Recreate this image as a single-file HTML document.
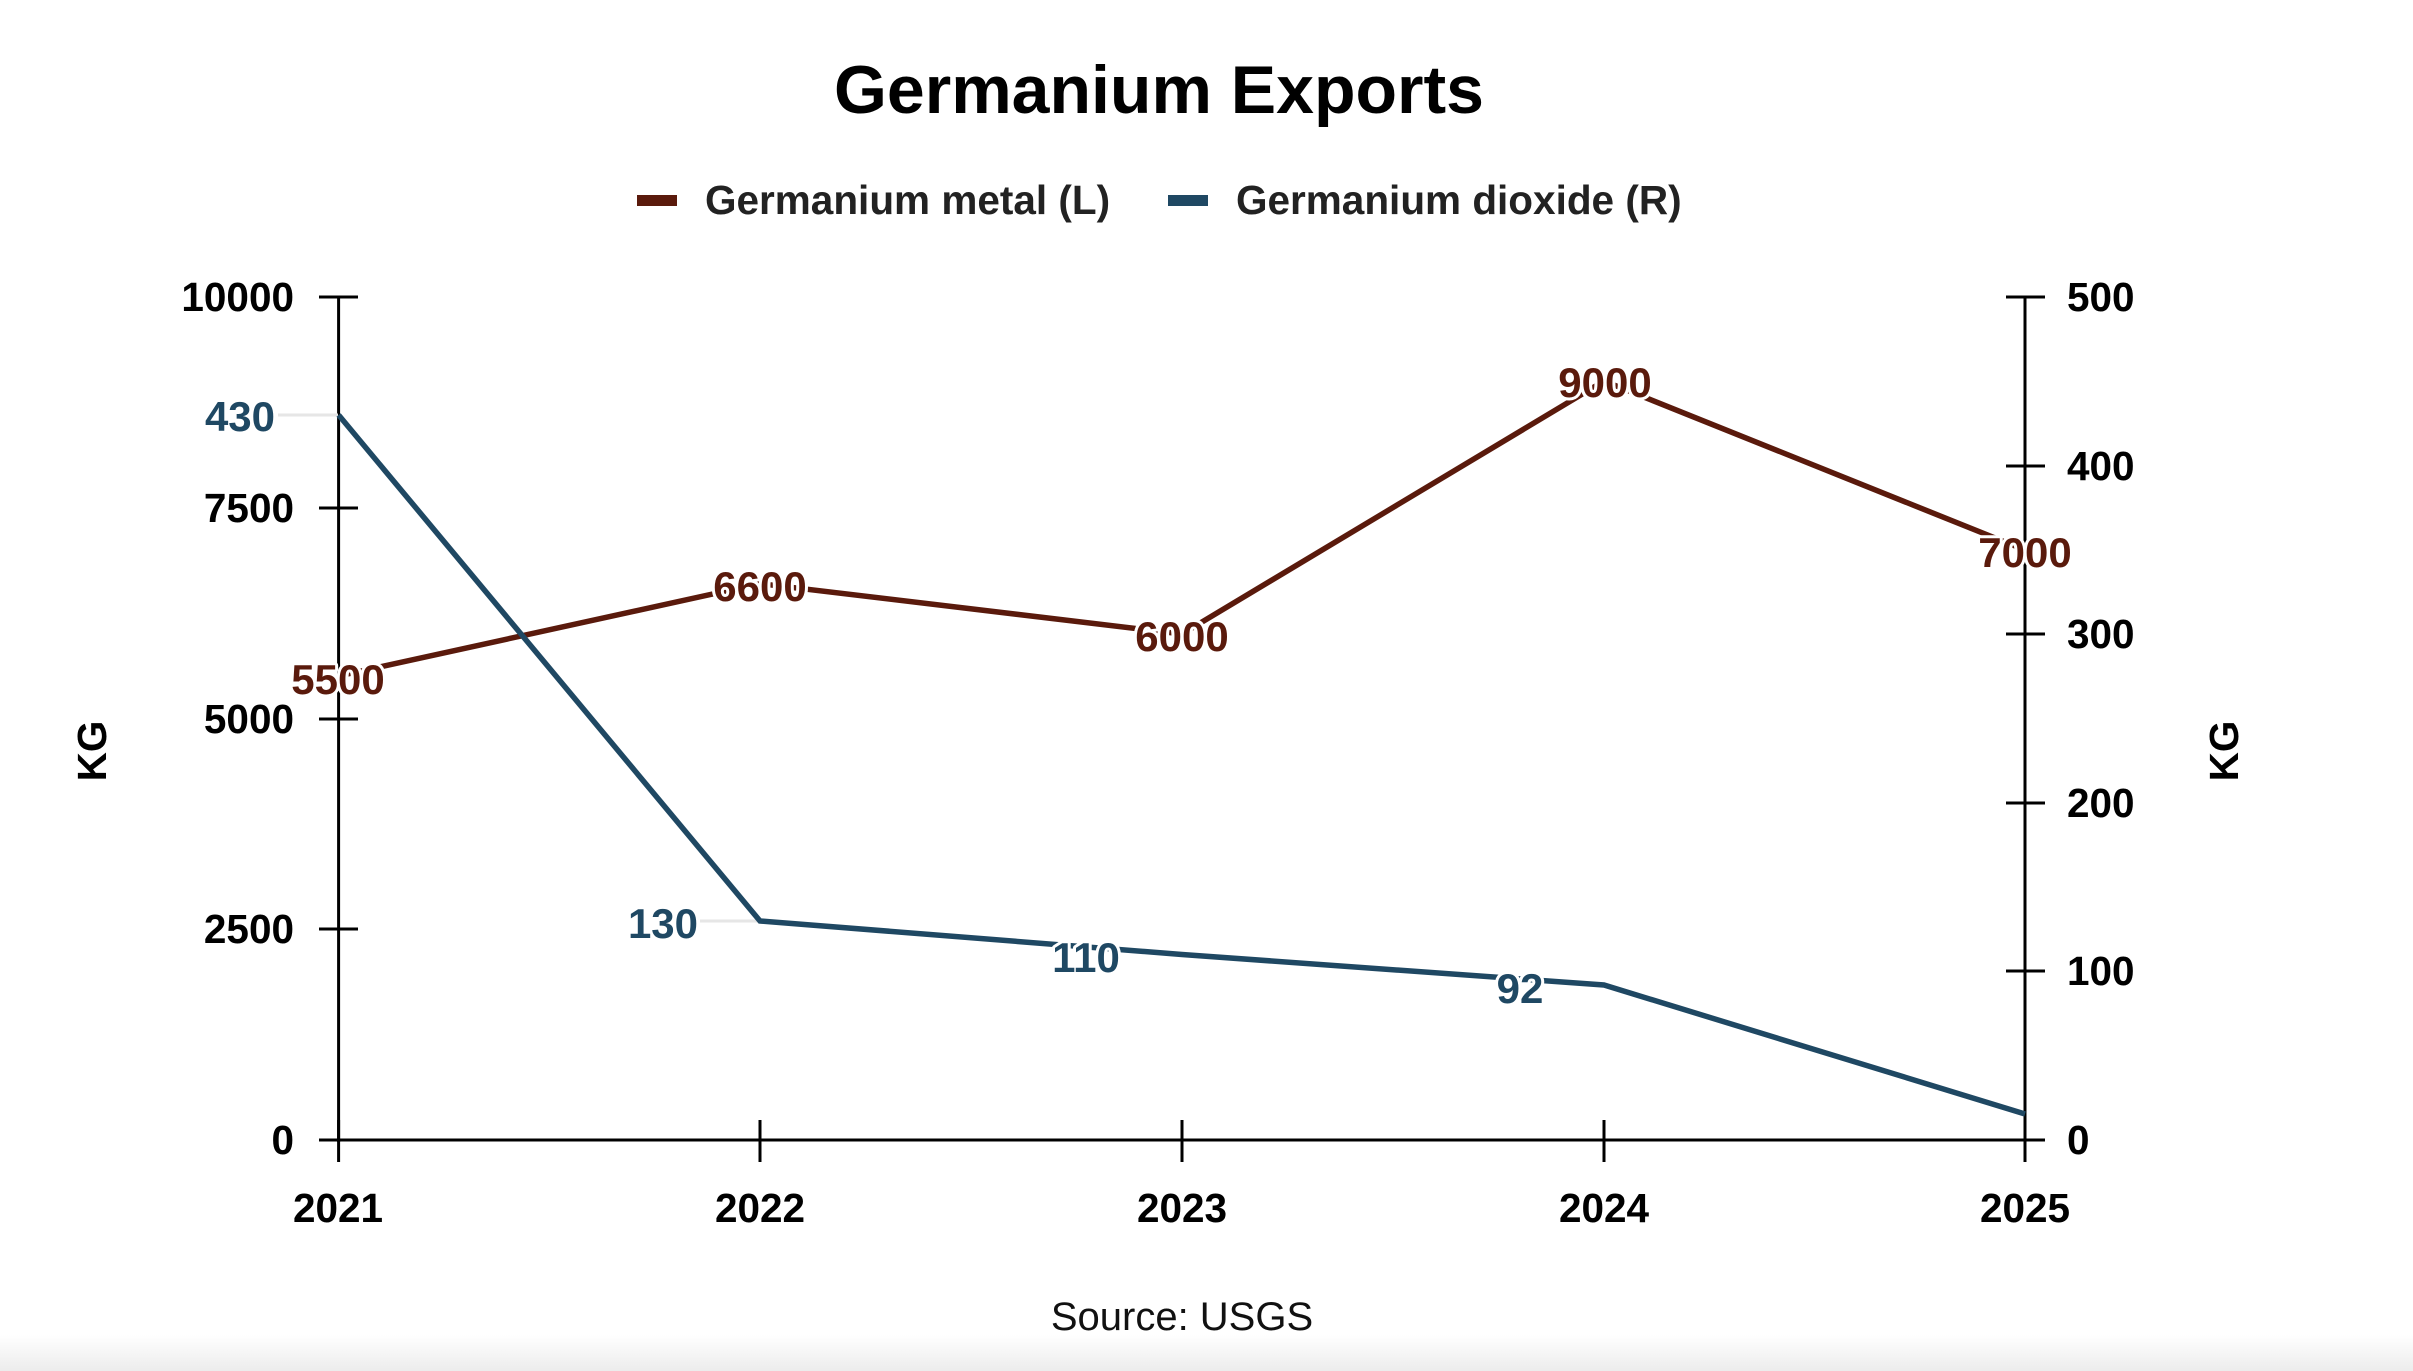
<!DOCTYPE html>
<html><head><meta charset="utf-8"><style>
html,body{margin:0;padding:0;background:#fff;}
svg{display:block;}
text{font-family:"Liberation Sans",Arial,sans-serif;}
</style></head><body>
<svg width="2413" height="1371" viewBox="0 0 2413 1371" xmlns="http://www.w3.org/2000/svg">
<defs><linearGradient id="bg" x1="0" y1="0" x2="0" y2="1"><stop offset="0" stop-color="#fff"/><stop offset="1" stop-color="#ececec"/></linearGradient></defs>
<rect width="2413" height="1371" fill="#fff"/>
<rect x="0" y="1335" width="2413" height="36" fill="url(#bg)"/>
<text x="1159" y="113" text-anchor="middle" font-size="68" font-weight="bold" fill="#000">Germanium Exports</text>
<rect x="637" y="195" width="40" height="11" fill="#5a1a0c"/>
<text x="705" y="214" font-size="40.5" font-weight="bold" fill="#222">Germanium metal (L)</text>
<rect x="1168" y="195" width="40" height="11" fill="#1f4863"/>
<text x="1236" y="214" font-size="40.5" font-weight="bold" fill="#222">Germanium dioxide (R)</text>
<g stroke="#000" stroke-width="3">
<line x1="338.6" y1="297" x2="338.6" y2="1142"/>
<line x1="2025" y1="297" x2="2025" y2="1142"/>
<line x1="337" y1="1140" x2="2027" y2="1140"/>
<line x1="319" y1="297" x2="358" y2="297"/><line x1="319" y1="508" x2="358" y2="508"/><line x1="319" y1="719" x2="358" y2="719"/><line x1="319" y1="929" x2="358" y2="929"/><line x1="319" y1="1140" x2="358" y2="1140"/>
<line x1="2006" y1="297" x2="2045" y2="297"/><line x1="2006" y1="466" x2="2045" y2="466"/><line x1="2006" y1="634" x2="2045" y2="634"/><line x1="2006" y1="803" x2="2045" y2="803"/><line x1="2006" y1="971" x2="2045" y2="971"/><line x1="2006" y1="1140" x2="2045" y2="1140"/>
<line x1="338.6" y1="1120" x2="338.6" y2="1162"/><line x1="760" y1="1120" x2="760" y2="1162"/><line x1="1182" y1="1120" x2="1182" y2="1162"/><line x1="1604" y1="1120" x2="1604" y2="1162"/><line x1="2025" y1="1120" x2="2025" y2="1162"/>
</g>
<g font-size="40.5" font-weight="bold" fill="#000">
<g text-anchor="end"><text x="294" y="311">10000</text><text x="294" y="522">7500</text><text x="294" y="733">5000</text><text x="294" y="943">2500</text><text x="294" y="1154">0</text></g>
<g text-anchor="start"><text x="2067" y="311">500</text><text x="2067" y="480">400</text><text x="2067" y="648">300</text><text x="2067" y="817">200</text><text x="2067" y="985">100</text><text x="2067" y="1154">0</text></g>
<g text-anchor="middle"><text x="338" y="1222">2021</text><text x="760" y="1222">2022</text><text x="1182" y="1222">2023</text><text x="1604" y="1222">2024</text><text x="2025" y="1222">2025</text></g>
<text transform="translate(106,751) rotate(-90)" text-anchor="middle">KG</text>
<text transform="translate(2238,751) rotate(-90)" text-anchor="middle">KG</text>
</g>
<g stroke="#e6e6e6" stroke-width="3"><line x1="278" y1="415" x2="338" y2="415"/><line x1="700" y1="921" x2="760" y2="921"/></g>
<polyline points="338.6,676 760,583.6 1182,634 1604,381 2025,550" fill="none" stroke="#5a1a0c" stroke-width="5.5"/>
<polyline points="338.6,415 760,921 1182,954.5 1604,985 2025,1114" fill="none" stroke="#1f4863" stroke-width="5.5"/>
<g font-size="42" font-weight="bold" text-anchor="middle" stroke="#fff" stroke-width="6" paint-order="stroke" stroke-linejoin="round">
<g fill="#5a1a0c"><text x="338" y="694">5500</text><text x="760" y="601">6600</text><text x="1182" y="651">6000</text><text x="1605" y="397">9000</text><text x="2025" y="567">7000</text></g>
<g fill="#1f4863"><text x="240" y="431">430</text><text x="663" y="938">130</text><text x="1086" y="972">110</text><text x="1520" y="1003">92</text></g>
</g>
<text x="1182" y="1330" text-anchor="middle" font-size="40" fill="#111">Source: USGS</text>
</svg>
</body></html>
